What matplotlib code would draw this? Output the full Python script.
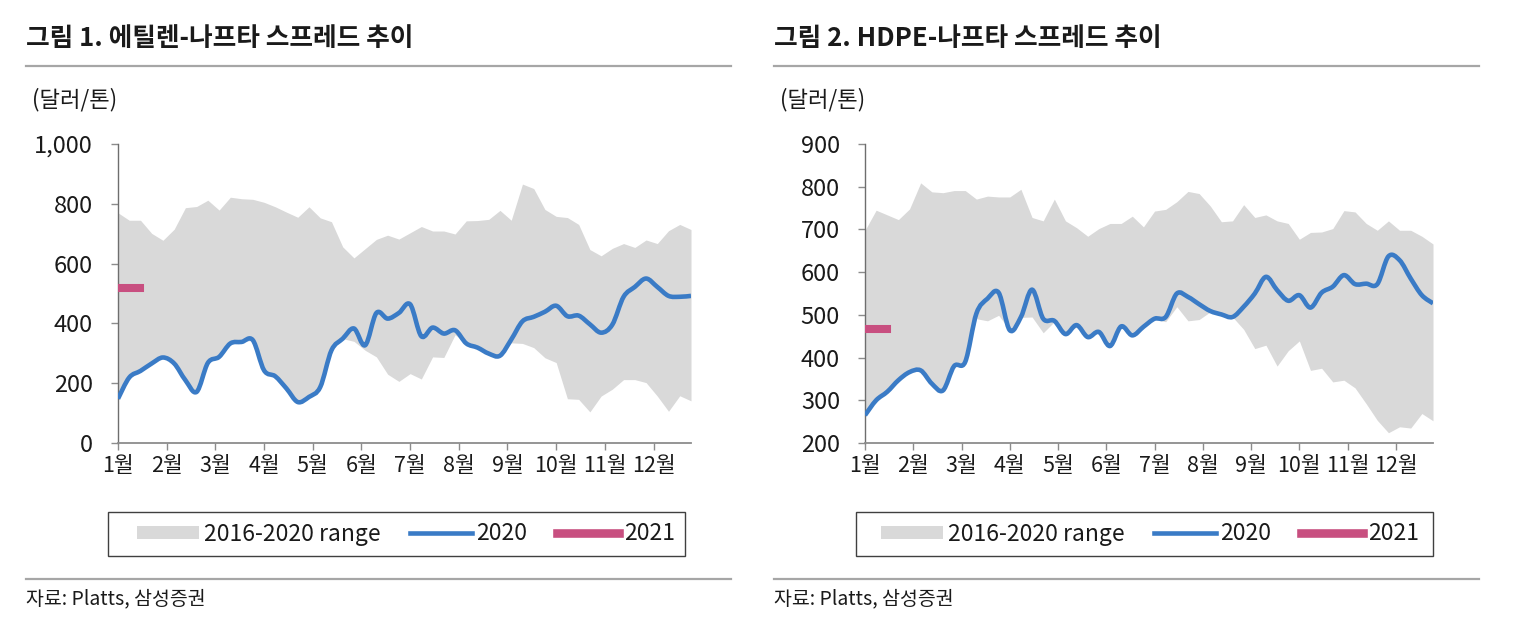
"""Ethylene / HDPE - naphtha spread charts (weekly, 2016-2020 range vs 2020 vs 2021)."""

import matplotlib
matplotlib.use("Agg")
import matplotlib.pyplot as plt
from matplotlib.path import Path
from matplotlib.patches import PathPatch, Patch, Rectangle
from matplotlib.lines import Line2D

plt.rcParams["font.family"] = ["Noto Sans CJK KR", "DejaVu Sans"]
plt.rcParams["font.weight"] = "light"

W, H = 1538, 644

GRAY = "#d9d9d9"
BLUE = "#3a7bc6"
PINK = "#c84f80"
TEXT = "#1a1a1a"
RULE = "#a6a6a6"

MONTHS = ["1월", "2월", "3월", "4월", "5월", "6월", "7월", "8월", "9월", "10월", "11월", "12월"]
WEEKS = list(range(52))

# ---- 그림 1: 에틸렌-나프타 (weekly, $/t)
eth_upper = [770, 745, 745, 701, 678, 715, 787, 791, 812, 779,
             822, 817, 815, 805, 790, 772, 755, 790, 753, 740,
             656, 619, 650, 681, 695, 682, 703, 724, 709, 709,
             699, 743, 744, 748, 778, 745, 866, 851, 781, 758,
             754, 731, 647, 626, 651, 667, 654, 679, 667, 710,
             731, 714]
eth_lower = [148, 219, 241, 266, 286, 266, 210, 171, 268, 288,
             333, 338, 344, 243, 223, 182, 137, 154, 187, 310,
             349, 340, 310, 288, 230, 206, 232, 214, 288, 286,
             362, 333, 319, 299, 292, 335, 333, 319, 285, 269,
             148, 146, 104, 157, 180, 212, 212, 202, 157, 106,
             158, 141]
eth_2020 = [148, 219, 241, 266, 286, 266, 210, 171, 268, 288,
            333, 338, 344, 243, 223, 182, 137, 154, 187, 310,
            349, 383, 327, 435, 416, 435, 464, 357, 386, 366,
            377, 333, 319, 299, 292, 346, 407, 422, 439, 459,
            424, 426, 397, 369, 396, 489, 522, 550, 522, 492,
            489, 492]
eth_2021 = [520, 520, 520]
eth_yticks = [0, 200, 400, 600, 800, 1000]
eth_ylabels = ["0", "200", "400", "600", "800", "1,000"]

# ---- 그림 2: HDPE-나프타
hdpe_upper = [698, 745, 734, 723, 748, 809, 788, 786, 791, 791,
              771, 778, 776, 776, 794, 728, 720, 771, 720, 704,
              684, 702, 714, 714, 731, 706, 743, 747, 765, 789,
              784, 755, 718, 720, 758, 728, 734, 720, 714, 677,
              693, 694, 702, 744, 741, 714, 698, 720, 698, 698,
              684, 666]
hdpe_lower = [265, 300, 320, 347, 366, 370, 339, 323, 380, 390,
              491, 486, 499, 464, 494, 495, 458, 484, 455, 472,
              448, 460, 427, 472, 452, 472, 489, 484, 519, 486,
              489, 507, 501, 495, 466, 421, 429, 380, 416, 439,
              370, 375, 343, 347, 329, 292, 253, 224, 238, 235,
              269, 252]
hdpe_2020 = [265, 300, 320, 347, 366, 370, 339, 323, 380, 390,
             503, 538, 552, 464, 495, 559, 491, 486, 455, 476,
             448, 460, 427, 473, 452, 472, 491, 495, 550, 542,
             525, 509, 501, 495, 519, 550, 589, 558, 533, 546,
             517, 552, 566, 593, 572, 573, 572, 637, 628, 585,
             546, 527]
hdpe_2021 = [466, 466, 466]
hdpe_yticks = [200, 300, 400, 500, 600, 700, 800, 900]
hdpe_ylabels = [str(v) for v in hdpe_yticks]

LEGEND_LABELS = ["2016-2020 range", "2020", "2021"]


def smooth_path(x, y):
    """Catmull-Rom style cubic bezier through the points (like a smoothed Excel line)."""
    n = len(x)
    verts = [(x[0], y[0])]
    codes = [Path.MOVETO]
    for i in range(n - 1):
        a = max(i - 1, 0)
        d = min(i + 2, n - 1)
        c1 = (x[i] + (x[i + 1] - x[a]) / 6, y[i] + (y[i + 1] - y[a]) / 6)
        c2 = (x[i + 1] - (x[d] - x[i]) / 6, y[i + 1] - (y[d] - y[i]) / 6)
        verts += [c1, c2, (x[i + 1], y[i + 1])]
        codes += [Path.CURVE4] * 3
    return Path(verts, codes)


def draw_panel(ax, upper, lower, s2020, s2021, yticks, ylabels):
    ax.fill_between(WEEKS, lower, upper, color=GRAY, lw=0, zorder=1)
    ax.add_patch(PathPatch(smooth_path(WEEKS, s2020), fill=False, edgecolor=BLUE,
                           lw=3.3, capstyle="butt", joinstyle="round", zorder=3))
    ax.plot(WEEKS[:len(s2021)], s2021, color=PINK, lw=5.8,
            solid_capstyle="projecting", zorder=4)

    ax.set_xlim(0, 51)
    ax.set_ylim(yticks[0], yticks[-1])
    ax.set_xticks([m * 52 / 12 for m in range(12)])
    ax.set_xticklabels(MONTHS)
    ax.set_yticks(yticks)
    ax.set_yticklabels(ylabels)
    for s in ("top", "right"):
        ax.spines[s].set_visible(False)
    ax.spines["left"].set_color("#6e6e6e")
    ax.spines["bottom"].set_color("#8c8c8c")
    ax.spines["left"].set_linewidth(1.0)
    ax.spines["bottom"].set_linewidth(1.3)
    ax.tick_params(axis="y", length=5, width=1, color="#8c8c8c", pad=13,
                   labelsize=17, labelcolor=TEXT)
    ax.tick_params(axis="x", length=5, width=1, color="#8c8c8c", pad=4,
                   labelsize=15.5, labelcolor=TEXT)


fig = plt.figure(figsize=(W / 100, H / 100), dpi=100)

ax1 = fig.add_axes([118 / W, 201 / H, 573 / W, 299 / H])
ax2 = fig.add_axes([865 / W, 201 / H, 568 / W, 299 / H])
draw_panel(ax1, eth_upper, eth_lower, eth_2020, eth_2021, eth_yticks, eth_ylabels)
draw_panel(ax2, hdpe_upper, hdpe_lower, hdpe_2020, hdpe_2021, hdpe_yticks, hdpe_ylabels)

handles = [Patch(facecolor=GRAY, edgecolor="none"),
           Line2D([], [], color=BLUE, lw=3.3),
           Line2D([], [], color=PINK, lw=6.2)]

panels = [
    (26, "그림 1. 에틸렌-나프타 스프레드 추이", 108, 685, 406),
    (774, "그림 2. HDPE-나프타 스프레드 추이", 856, 1433, 1150),
]
for x0, title, bx0, bx1, lcx in panels:
    fig.text(x0 / W, 1 - 39 / H, title, fontsize=18.5, fontweight="bold",
             color=TEXT, ha="left", va="center")
    fig.add_artist(Line2D([x0 / W, (x0 + 705) / W], [1 - 66 / H] * 2,
                          color=RULE, lw=1.6, transform=fig.transFigure))
    fig.text((x0 + 6) / W, 1 - 100 / H, "(달러/톤)", fontsize=16,
             color=TEXT, ha="left", va="center")
    fig.add_artist(Rectangle((bx0 / W, 1 - 556 / H), (bx1 - bx0) / W, 44 / H,
                             fill=False, edgecolor="#404040", lw=1.0,
                             transform=fig.transFigure))
    fig.legend(handles, LEGEND_LABELS, loc="center",
               bbox_to_anchor=(lcx / W, 1 - 534 / H), ncol=3, frameon=False,
               fontsize=16.5, handlelength=2.7, handleheight=0.5,
               handletextpad=0.2, columnspacing=1.3, borderpad=0,
               labelcolor=TEXT)
    fig.add_artist(Line2D([x0 / W, (x0 + 705) / W], [1 - 579 / H] * 2,
                          color=RULE, lw=1.6, transform=fig.transFigure))
    fig.text(x0 / W, 1 - 599 / H, "자료: Platts, 삼성증권", fontsize=14,
             color=TEXT, ha="left", va="center")

fig.savefig("out.png", dpi=100, facecolor="white")
